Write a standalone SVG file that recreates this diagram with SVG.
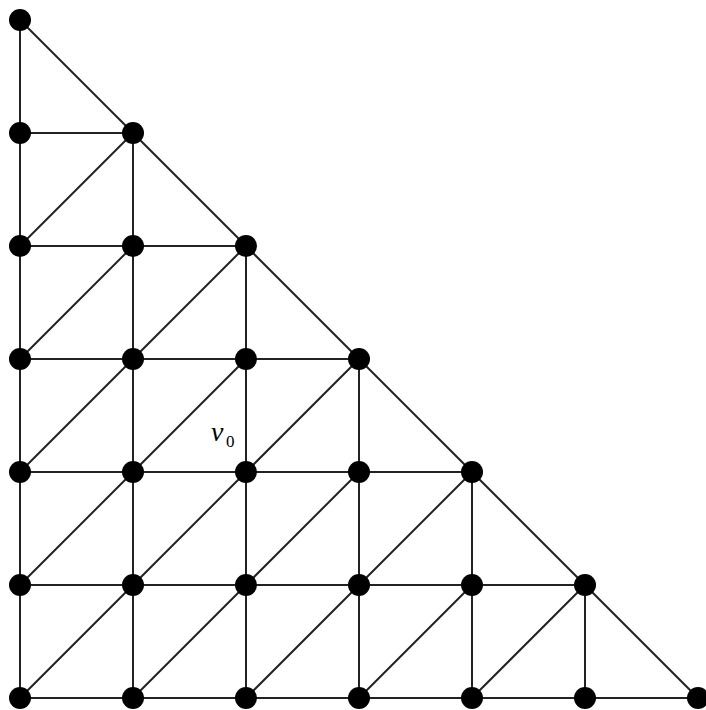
<svg xmlns="http://www.w3.org/2000/svg" width="706" height="710" viewBox="0 0 706 710">
<style>
.e{stroke:#222;stroke-width:2;fill:none}
.n{fill:#000}
</style>
<rect width="706" height="710" fill="#fff"/>
<g id="edges" class="e">
<path d="M20 20L698 698"/>
<path d="M20 133H133M20 246H246M20 359H359M20 472H472M20 585H585M20 698H698"/>
<path d="M20 20V698M133 133V698M246 246V698M359 359V698M472 472V698M585 585V698"/>
<path d="M20 246L133 133"/>
<path d="M20 359L133 246M133 359L246 246"/>
<path d="M20 472L133 359M133 472L246 359M246 472L359 359"/>
<path d="M20 585L133 472M133 585L246 472M246 585L359 472M359 585L472 472"/>
<path d="M20 698L133 585M133 698L246 585M246 698L359 585M359 698L472 585M472 698L585 585"/>
</g>
<g id="nodes" class="n">
<g id="n0_0"><circle cx="20" cy="20" r="11"/></g>
<g id="n0_1"><circle cx="20" cy="133" r="11"/></g>
<g id="n1_1"><circle cx="133" cy="133" r="11"/></g>
<g id="n0_2"><circle cx="20" cy="246" r="11"/></g>
<g id="n1_2"><circle cx="133" cy="246" r="11"/></g>
<g id="n2_2"><circle cx="246" cy="246" r="11"/></g>
<g id="n0_3"><circle cx="20" cy="359" r="11"/></g>
<g id="n1_3"><circle cx="133" cy="359" r="11"/></g>
<g id="n2_3"><circle cx="246" cy="359" r="11"/></g>
<g id="n3_3"><circle cx="359" cy="359" r="11"/></g>
<g id="n0_4"><circle cx="20" cy="472" r="11"/></g>
<g id="n1_4"><circle cx="133" cy="472" r="11"/></g>
<g id="n2_4"><circle cx="246" cy="472" r="11"/></g>
<g id="n3_4"><circle cx="359" cy="472" r="11"/></g>
<g id="n4_4"><circle cx="472" cy="472" r="11"/></g>
<g id="n0_5"><circle cx="20" cy="585" r="11"/></g>
<g id="n1_5"><circle cx="133" cy="585" r="11"/></g>
<g id="n2_5"><circle cx="246" cy="585" r="11"/></g>
<g id="n3_5"><circle cx="359" cy="585" r="11"/></g>
<g id="n4_5"><circle cx="472" cy="585" r="11"/></g>
<g id="n5_5"><circle cx="585" cy="585" r="11"/></g>
<g id="n0_6"><circle cx="20" cy="698" r="11"/></g>
<g id="n1_6"><circle cx="133" cy="698" r="11"/></g>
<g id="n2_6"><circle cx="246" cy="698" r="11"/></g>
<g id="n3_6"><circle cx="359" cy="698" r="11"/></g>
<g id="n4_6"><circle cx="472" cy="698" r="11"/></g>
<g id="n5_6"><circle cx="585" cy="698" r="11"/></g>
<g id="n6_6"><circle cx="698" cy="698" r="11"/></g>
</g>
<g id="label" font-family="Liberation Serif,serif" fill="#000">
<text x="211" y="441" font-size="28" font-style="italic">v</text>
<text x="226" y="446.5" font-size="17">0</text>
</g>
</svg>
